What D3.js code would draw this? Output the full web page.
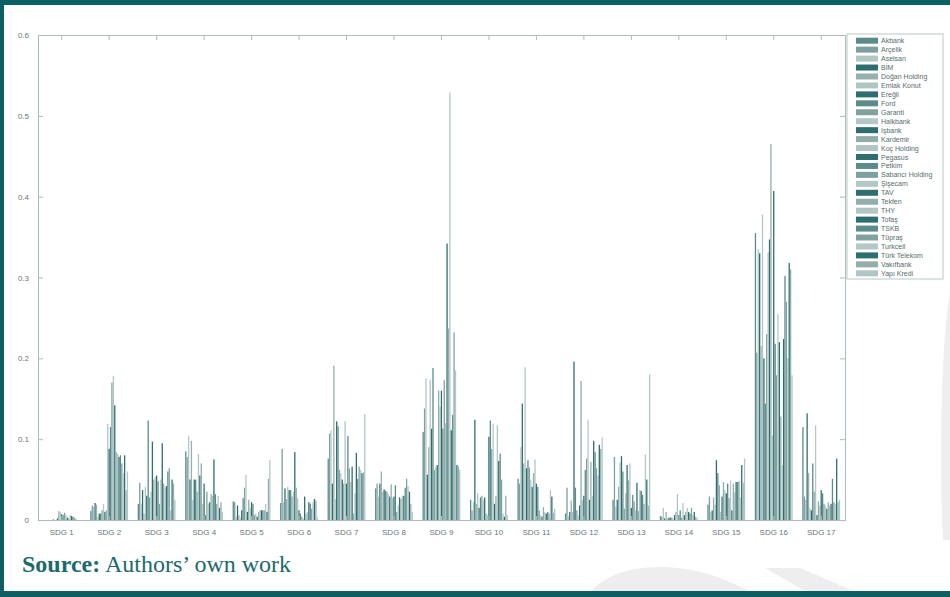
<!DOCTYPE html>
<html>
<head>
<meta charset="utf-8">
<script src="https://cdn.jsdelivr.net/npm/d3@7"></script>
<style>
  body { margin: 0; background: #fff; }
  svg text { font-family: "Liberation Sans", Arial, sans-serif; }
  svg text.source { font-family: "Liberation Serif", "Times New Roman", serif; }
</style>
</head>
<body>
<div class="chart"></div>
<script>
var svgWidth = 950;
var svgHeight = 597;

// categories
var sdgs = ["SDG 1", "SDG 2", "SDG 3", "SDG 4", "SDG 5", "SDG 6", "SDG 7", "SDG 8", "SDG 9",
  "SDG 10", "SDG 11", "SDG 12", "SDG 13", "SDG 14", "SDG 15", "SDG 16", "SDG 17"];

var companies = ["Akbank", "Arçelik", "Aselsan", "BİM", "Doğan Holding", "Emlak Konut", "Ereğli",
  "Ford", "Garanti", "Halkbank", "İşbank", "Kardemir", "Koç Holding", "Pegasus", "Petkim",
  "Sabancı Holding", "Şişecam", "TAV", "Tekfen", "THY", "Tofaş", "TSKB", "Tüpraş", "Turkcell",
  "Türk Telekom", "Vakıfbank", "Yapı Kredi"];

var companyColors = ["#5c8b8b", "#7d9f9f", "#b4c7c7", "#2f6e6f", "#96afaf", "#b2c5c5", "#2f6e6f",
  "#5c8b8b", "#82a2a2", "#b4c7c7", "#2f6e6f", "#92acac", "#b2c5c5", "#2f6e6f", "#5c8b8b",
  "#7fa0a0", "#b4c7c7", "#2f6e6f", "#94aeae", "#b2c5c5", "#2f6e6f", "#5c8b8b", "#82a2a2",
  "#b4c7c7", "#2f6e6f", "#94aeae", "#b2c5c5"];

// one row per SDG, one value per company (same order as companies)
var sdg1 = [0, 0, 0, 0, 0, 0, 0, 0.001, 0, 0, 0.002, 0.011, 0.01, 0.007, 0.006, 0.009, 0.007, 0.003, 0.002, 0.006, 0.005, 0.004, 0.003, 0.002, 0, 0, 0];
var sdg2 = [0.011, 0.018, 0.016, 0.021, 0.019, 0.004, 0.008, 0.008, 0.012, 0.02, 0.01, 0.012, 0.119, 0.088, 0.115, 0.17, 0.178, 0.142, 0.084, 0.082, 0.078, 0.08, 0.07, 0.058, 0.08, 0.037, 0.06];
var sdg3 = [0.02, 0.046, 0.02, 0.037, 0.008, 0.041, 0.03, 0.123, 0.028, 0.035, 0.097, 0.05, 0.053, 0.055, 0.048, 0.02, 0.05, 0.095, 0.045, 0.04, 0.042, 0.06, 0.064, 0.012, 0.05, 0.045, 0.025];
var sdg4 = [0.085, 0.078, 0.104, 0.05, 0.098, 0.025, 0.05, 0.05, 0.035, 0.082, 0.055, 0.07, 0.02, 0.045, 0.006, 0.035, 0.02, 0.022, 0.032, 0.03, 0.075, 0.032, 0.02, 0.03, 0.015, 0.022, 0.01];
var sdg5 = [0.023, 0.022, 0.004, 0.018, 0.006, 0.003, 0.012, 0.027, 0.04, 0.056, 0.01, 0.025, 0.015, 0.022, 0.02, 0.006, 0.008, 0.004, 0.01, 0.012, 0.012, 0.012, 0.012, 0.02, 0.01, 0.051, 0.074];
var sdg6 = [0.021, 0.088, 0.022, 0.039, 0.026, 0.041, 0.037, 0.037, 0.029, 0.035, 0.084, 0.04, 0.027, 0.012, 0.008, 0.004, 0.002, 0.029, 0.008, 0.01, 0.022, 0.02, 0.014, 0.022, 0.026, 0.024, 0.003];
var sdg7 = [0.076, 0.107, 0.111, 0.045, 0.191, 0.026, 0.122, 0.116, 0.062, 0.058, 0.05, 0.045, 0.122, 0.045, 0.104, 0.064, 0.047, 0.066, 0.008, 0.033, 0.083, 0.051, 0.066, 0.062, 0.058, 0.059, 0.131];
var sdg8 = [0.039, 0.045, 0.029, 0.045, 0.06, 0.035, 0.038, 0.036, 0.035, 0.032, 0.029, 0.044, 0.027, 0.029, 0.043, 0.01, 0.018, 0.028, 0.026, 0.03, 0.03, 0.04, 0.051, 0.042, 0.035, 0.02, 0.01];
var sdg9 = [0.109, 0.138, 0.175, 0.056, 0.09, 0.173, 0.113, 0.188, 0.062, 0.066, 0.068, 0.16, 0.14, 0.16, 0.113, 0.173, 0.12, 0.342, 0.237, 0.529, 0.111, 0.13, 0.232, 0.185, 0.068, 0.066, 0.062];
var sdg10 = [0.025, 0.012, 0.022, 0.124, 0.02, 0.033, 0.015, 0.028, 0.03, 0.025, 0.028, 0.008, 0.006, 0.103, 0.123, 0.088, 0.119, 0.02, 0.03, 0.117, 0.073, 0.082, 0.05, 0.008, 0.004, 0.03, 0.006];
var sdg11 = [0.051, 0.045, 0.09, 0.144, 0.07, 0.189, 0.064, 0.074, 0.065, 0.05, 0.041, 0.058, 0.075, 0.045, 0.041, 0.012, 0.006, 0.004, 0.016, 0.01, 0.008, 0.01, 0.008, 0.037, 0.029, 0.009, 0.014];
var sdg12 = [0.008, 0.04, 0.005, 0.01, 0.024, 0.01, 0.196, 0.04, 0.012, 0.006, 0.018, 0.172, 0.025, 0.03, 0.062, 0.076, 0.124, 0.025, 0.072, 0.03, 0.098, 0.084, 0.064, 0.055, 0.093, 0.088, 0.102];
var sdg13 = [0.025, 0.078, 0.016, 0.025, 0.041, 0.071, 0.079, 0.06, 0.014, 0.033, 0.068, 0.049, 0.07, 0.015, 0.031, 0.023, 0.012, 0.046, 0.011, 0.037, 0.036, 0.031, 0.02, 0.081, 0.05, 0.018, 0.18];
var sdg14 = [0.005, 0.004, 0.015, 0.002, 0.01, 0.002, 0.003, 0.003, 0.003, 0.002, 0.006, 0.01, 0.032, 0.006, 0.012, 0.003, 0.021, 0.006, 0.01, 0.015, 0.01, 0.008, 0.015, 0.006, 0.01, 0.004, 0.003];
var sdg15 = [0.019, 0.029, 0.01, 0.012, 0.028, 0.019, 0.074, 0.058, 0.043, 0.01, 0.029, 0.047, 0.037, 0.033, 0.045, 0.027, 0.049, 0.012, 0.045, 0.034, 0.047, 0.047, 0.048, 0.028, 0.068, 0.046, 0.076];
var sdg16 = [0.355, 0.207, 0.335, 0.33, 0.215, 0.378, 0.2, 0.144, 0.23, 0.331, 0.347, 0.465, 0.105, 0.407, 0.218, 0.179, 0.255, 0.22, 0.128, 0.068, 0.224, 0.302, 0.27, 0.2, 0.318, 0.31, 0.179];
var sdg17 = [0.115, 0.029, 0.025, 0.132, 0.058, 0.015, 0.012, 0.07, 0.035, 0.117, 0.006, 0.023, 0.018, 0.037, 0.033, 0.02, 0.018, 0.014, 0.022, 0.018, 0.02, 0.051, 0.022, 0.02, 0.076, 0.022, 0.025];

var yTicks = [0, 0.1, 0.2, 0.3, 0.4, 0.5, 0.6];
var yTickLabels = ["0", "0.1", "0.2", "0.3", "0.4", "0.5", "0.6"];

var values = [sdg1, sdg2, sdg3, sdg4, sdg5, sdg6, sdg7, sdg8, sdg9, sdg10, sdg11, sdg12,
  sdg13, sdg14, sdg15, sdg16, sdg17];

var plot = { left: 38, right: 845, top: 35, bottom: 520 };
var axisColor = "#a9bdbd";
var textColor = "#6a7676";
var frameColor = "#0d5f63";

var svg = d3.select(".chart")
  .append("svg")
  .attr("width", svgWidth)
  .attr("height", svgHeight);

// faint page watermark shapes
var mark = svg.append("g").attr("fill", "#eeeeee");
mark.append("path").attr("d", "M588,597 C605,562 690,552 758,597 Z");
mark.append("path").attr("d", "M765,568 L800,568 L868,597 L815,597 Z");
mark.append("path").attr("d", "M950,292 C941,340 939,470 943,540 L950,540 Z");

// page frame
svg.append("rect").attr("x", 0).attr("y", 0).attr("width", svgWidth).attr("height", 5).attr("fill", frameColor);
svg.append("rect").attr("x", 0).attr("y", 0).attr("width", 4).attr("height", svgHeight).attr("fill", frameColor);
svg.append("rect").attr("x", 0).attr("y", 591).attr("width", svgWidth).attr("height", 6).attr("fill", frameColor);

var x0 = d3.scaleBand()
  .domain(sdgs)
  .range([plot.left, plot.right])
  .paddingInner(0.2)
  .paddingOuter(0.1);

var x1 = d3.scaleBand()
  .domain(companies)
  .range([0, x0.bandwidth()]);

var color = d3.scaleOrdinal().domain(companies).range(companyColors);

var y = d3.scaleLinear()
  .domain([0, 0.6])
  .range([plot.bottom, plot.top]);

// bars
var groups = svg.selectAll("g.sdg")
  .data(sdgs)
  .enter()
  .append("g")
  .attr("class", "sdg")
  .attr("transform", d => `translate(${x0(d)},0)`);

groups.selectAll("rect")
  .data((d, i) => values[i].map((v, j) => ({ company: companies[j], value: v })))
  .enter()
  .append("rect")
  .attr("x", d => x1(d.company))
  .attr("width", x1.bandwidth() * 0.92)
  .attr("y", d => y(d.value))
  .attr("height", d => y(0) - y(d.value))
  .attr("fill", d => color(d.company));

// axes on all four sides, ticks inward
var leftAxis = d3.axisLeft(y).tickValues(yTicks).tickSize(-5).tickPadding(9)
  .tickFormat((d, i) => yTickLabels[i]);
var rightAxis = d3.axisRight(y).tickValues(yTicks).tickSize(-5).tickFormat("");
var bottomAxis = d3.axisBottom(x0).tickSize(-4).tickPadding(9);
var topAxis = d3.axisTop(x0).tickSize(-5).tickFormat("");

function styleAxis(g) {
  g.selectAll("path, line").attr("stroke", axisColor);
  g.selectAll("text").attr("fill", textColor).attr("font-size", 8);
}

svg.append("g").attr("transform", `translate(${plot.left},0)`).call(leftAxis).call(styleAxis);
svg.append("g").attr("transform", `translate(${plot.right},0)`).call(rightAxis).call(styleAxis);
svg.append("g").attr("transform", `translate(0,${plot.bottom})`).call(bottomAxis).call(styleAxis);
svg.append("g").attr("transform", `translate(0,${plot.top})`).call(topAxis).call(styleAxis);

// legend
var legend = svg.append("g");
legend.append("rect")
  .attr("x", 847).attr("y", 34)
  .attr("width", 96).attr("height", 245)
  .attr("fill", "#fff")
  .attr("stroke", "#b9c8c8");

var rowY = d3.scalePoint().domain(companies).range([40.7, 273.3]);

var items = legend.selectAll("g.item")
  .data(companies)
  .enter()
  .append("g")
  .attr("class", "item")
  .attr("transform", d => `translate(0,${rowY(d)})`);

items.append("rect")
  .attr("x", 856).attr("y", -3)
  .attr("width", 22).attr("height", 6)
  .attr("fill", d => color(d));

items.append("text")
  .attr("x", 881).attr("y", 2.5)
  .attr("font-size", 7)
  .attr("fill", "#566c6c")
  .text(d => d);

// source note
var source = svg.append("text")
  .attr("class", "source")
  .attr("x", 22).attr("y", 572)
  .attr("font-size", 24)
  .attr("fill", "#1b6b6b");
source.append("tspan").attr("font-weight", "bold").text("Source:");
source.append("tspan").text(" Authors’ own work");
</script>
</body>
</html>
